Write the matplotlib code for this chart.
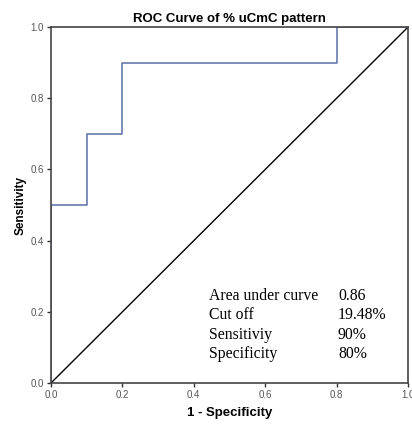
import matplotlib
matplotlib.use("Agg")
import matplotlib.pyplot as plt

plt.rcParams["font.family"] = ["Liberation Sans", "DejaVu Sans"]

# ROC step curve (1 - specificity, sensitivity)
fpr = [0.0, 0.0, 0.1, 0.1, 0.2, 0.2, 0.8, 0.8, 1.0]
tpr = [0.0, 0.5, 0.5, 0.7, 0.7, 0.9, 0.9, 1.0, 1.0]
ticks = [0.0, 0.2, 0.4, 0.6, 0.8, 1.0]
stat_names = ["Area under curve", "Cut off", "Sensitiviy", "Specificity"]
stat_values = ["0.86", "19.48%", "90%", "80%"]

fig = plt.figure(figsize=(4.12, 4.25), dpi=100)
ax = fig.add_axes([0.124, 0.099, 0.866, 0.837])

ax.plot([0, 1], [0, 1], color="black", lw=1.0)
ax.plot(fpr, tpr, color="#5b6ea8", lw=1.1)

ax.set_xlim(0, 1)
ax.set_ylim(0, 1)
ax.set_xticks(ticks)
ax.set_yticks(ticks)
ax.set_xticklabels([f"{t:.1f}" for t in ticks])
ax.set_yticklabels([f"{t:.1f}" for t in ticks])
ax.tick_params(labelsize=7, labelcolor="#555555", color="#333333",
               length=3, width=1, pad=2)
for s in ax.spines.values():
    s.set_color("#444444")
    s.set_linewidth(1.2)

ax.set_title("ROC Curve of % uCmC pattern", fontsize=9.5, weight="bold", pad=4)
ax.set_xlabel("1 - Specificity", fontsize=9.5, weight="bold", labelpad=5)
ax.set_ylabel("Sensitivity", fontsize=8.5, weight="bold", labelpad=3)

for i, (n, v) in enumerate(zip(stat_names, stat_values)):
    y = 0.244 - i * 0.054
    ax.text(0.443, y, n, fontsize=11.3, family="Liberation Serif",
            transform=ax.transAxes, va="center")
    ax.text(0.804, y, v, fontsize=11.3, family="Liberation Serif",
            transform=ax.transAxes, va="center")

fig.savefig("out.png", dpi=100)
